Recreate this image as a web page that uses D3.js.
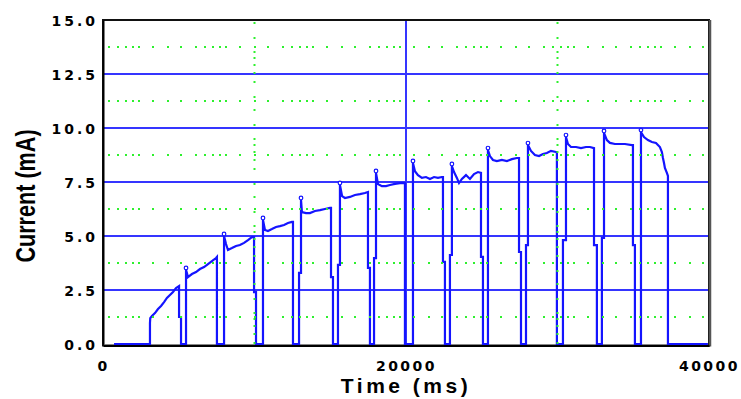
<!DOCTYPE html>
<html>
<head>
<meta charset="utf-8">
<script src="https://cdn.jsdelivr.net/npm/d3@7"></script>
<style>
  body { margin: 0; background: #fff; }
  svg { display: block; }
  .tick-label { font-family: "DejaVu Sans", sans-serif; font-weight: bold; font-size: 14px; letter-spacing: 3px; fill: #000; }
  .axis-title { font-family: "Liberation Sans", Arial, sans-serif; font-weight: bold; fill: #000; }
</style>
</head>
<body>
<div id="chart"></div>
<script>
const timeMs = [
  730, 3100, 3100, 3120, 3230, 3430, 3630, 3830, 4030, 4220, 4420, 4620, 4820, 5020, 5020, 5150, 5150, 5480,
  5480, 5610, 5870, 6140, 6400, 6670, 6930, 7190, 7460, 7520, 7520, 7990,
  7990, 8120, 8250, 8510, 8780, 9040, 9310, 9570, 9830, 9970, 9970, 10100, 10100, 10560,
  10560, 10690, 10890, 11150, 11420, 11680, 11950, 12210, 12470, 12540, 12540, 12940,
  12940, 13070, 13070, 13130, 13400, 13660, 13990, 14320, 14650, 14980, 15050, 15050, 15180, 15180, 15510,
  15510, 15640, 15640, 15780, 15970, 16300, 16630, 16960, 17290, 17490, 17490, 17620, 17620, 17890,
  17890, 18020, 18020, 18150, 18410, 18680, 18940, 19270, 19600, 19930, 19930, 20460,
  20460, 20590, 20790, 21050, 21320, 21580, 21850, 22110, 22370, 22440, 22440, 22570, 22570, 22900,
  22900, 23030, 23030, 23170, 23360, 23500, 23690, 23960, 24220, 24490, 24750, 24950, 24950, 25080, 25080, 25410,
  25410, 25540, 25740, 26000, 26330, 26660, 26990, 27320, 27460, 27460, 27590, 27590, 27920,
  27920, 28050, 28050, 28250, 28510, 28780, 29040, 29300, 29570, 29900, 29960, 29960, 30360,
  30360, 30560, 30560, 30690, 30890, 31220, 31550, 31880, 32140, 32410, 32410, 32600, 32600, 32930,
  32930, 33070, 33070, 33260, 33460, 33790, 34120, 34450, 34910, 34980, 34980, 35110, 35110, 35510,
  35510, 35710, 35970, 36230, 36500, 36760, 36890, 36960, 37030, 37090, 37220, 37290, 37290, 39930
];
const currentMa = [
  0, 0, 0.97, 1.2, 1.3, 1.43, 1.62, 1.76, 1.94, 2.13, 2.27, 2.41, 2.59, 2.68, 1.25, 1.25, 0, 0,
  3.43, 3.1, 3.24, 3.33, 3.47, 3.56, 3.7, 3.84, 3.98, 4.03, 0, 0,
  5.0, 4.63, 4.35, 4.44, 4.54, 4.58, 4.68, 4.81, 4.95, 4.95, 2.4, 2.4, 0, 0,
  5.74, 5.28, 5.23, 5.32, 5.42, 5.46, 5.51, 5.6, 5.65, 5.65, 0, 0,
  3.29, 3.29, 6.67, 6.11, 6.06, 6.06, 6.16, 6.2, 6.25, 6.3, 6.3, 3.1, 3.1, 0, 0,
  3.66, 3.66, 7.36, 6.85, 6.76, 6.81, 6.9, 6.94, 6.99, 7.04, 3.52, 3.52, 0, 0,
  3.98, 3.98, 7.92, 7.41, 7.31, 7.31, 7.36, 7.41, 7.45, 7.45, 0, 0,
  8.38, 8.0, 7.82, 7.69, 7.73, 7.64, 7.73, 7.69, 7.73, 7.73, 3.8, 3.8, 0, 0,
  4.12, 4.12, 8.24, 7.96, 7.69, 7.45, 7.64, 7.82, 7.64, 7.87, 7.96, 7.92, 4.03, 4.03, 0, 0,
  8.98, 8.7, 8.52, 8.47, 8.52, 8.47, 8.56, 8.61, 8.61, 4.26, 4.26, 0, 0,
  4.58, 4.58, 9.21, 8.94, 8.75, 8.7, 8.8, 8.84, 8.94, 8.89, 8.89, 0, 0,
  4.81, 4.81, 9.58, 9.26, 9.12, 9.12, 9.07, 9.12, 9.12, 9.07, 4.58, 4.58, 0, 0,
  4.91, 4.91, 9.77, 9.44, 9.31, 9.26, 9.26, 9.26, 9.21, 9.21, 4.58, 4.58, 0, 0,
  9.81, 9.58, 9.44, 9.35, 9.31, 9.12, 8.89, 8.61, 8.38, 8.15, 7.92, 7.78, 0, 0
];

const yTicks = [0, 2.5, 5, 7.5, 10, 12.5, 15];
const yMinorTicks = [1.25, 3.75, 6.25, 8.75, 11.25, 13.75];
const xTicks = [0, 20000, 40000];
const xMajorGrid = [20000];
const xMinorTicks = [10000, 30000];

const width = 741;
const height = 399;
const margin = { top: 20, right: 32, bottom: 55, left: 103 };
const innerW = width - margin.left - margin.right;
const innerH = height - margin.top - margin.bottom;

const svg = d3.select("#chart")
  .append("svg")
  .attr("width", width)
  .attr("height", height);

const g = svg.append("g")
  .attr("transform", `translate(${margin.left},${margin.top})`);

const x = d3.scaleLinear().domain([0, 40000]).range([0, innerW]);
const y = d3.scaleLinear().domain([0, 15]).range([innerH, 0]);

const blue = "#3535ff";
const traceBlue = "#1414ff";
const dots = "2,7,2,6,2,5,2,4,2,12,2,13,2,11,2,13";

// major grid
g.selectAll(".hgrid")
  .data(yTicks.filter(d => d > 0 && d < 15))
  .enter()
  .append("line")
  .attr("x1", 0)
  .attr("x2", innerW)
  .attr("y1", d => y(d))
  .attr("y2", d => y(d))
  .attr("stroke", blue)
  .attr("stroke-width", 2);

g.selectAll(".vgrid")
  .data(xMajorGrid)
  .enter()
  .append("line")
  .attr("x1", d => x(d))
  .attr("x2", d => x(d))
  .attr("y1", 0)
  .attr("y2", innerH)
  .attr("stroke", blue)
  .attr("stroke-width", 2);

// frame
g.append("rect")
  .attr("x", 0)
  .attr("y", 0)
  .attr("width", innerW)
  .attr("height", innerH + 1.5)
  .attr("fill", "none")
  .attr("stroke", "#111")
  .attr("stroke-width", 2);

g.append("line")
  .attr("x1", innerW + 1)
  .attr("x2", innerW + 1)
  .attr("y1", 0)
  .attr("y2", innerH + 2.5)
  .attr("stroke", "#555")
  .attr("stroke-width", 2.5);

// axes
const yAxis = g.append("g")
  .call(d3.axisLeft(y).tickValues(yTicks).tickSize(0).tickFormat(d3.format(".1f")));
yAxis.select(".domain").attr("stroke", "#000").attr("stroke-width", 2);
yAxis.selectAll("text")
  .attr("class", "tick-label")
  .attr("x", -5)
  .attr("dy", "0.37em");

const xAxis = g.append("g")
  .attr("transform", `translate(0,${innerH + 1.5})`)
  .call(d3.axisBottom(x).tickValues(xTicks).tickSize(0).tickFormat(d3.format("d")));
xAxis.select(".domain").attr("stroke", "#000").attr("stroke-width", 2);
xAxis.selectAll("text")
  .attr("class", "tick-label")
  .style("letter-spacing", "2.5px")
  .attr("y", 25.5)
  .attr("dy", 0);

// data trace
const points = timeMs.map((t, i) => [t, currentMa[i]]);
const line = d3.line()
  .x(d => x(d[0]))
  .y(d => y(d[1]));

g.append("path")
  .datum(points)
  .attr("fill", "none")
  .attr("stroke", traceBlue)
  .attr("stroke-width", 2.2)
  .attr("stroke-linejoin", "miter")
  .attr("d", line);

// small open markers on top of each pulse's leading spike
const peaks = points.filter((p, i) =>
  i > 0 && i < points.length - 1 && p[1] - points[i - 1][1] > 1 && p[1] > points[i + 1][1]);

g.selectAll(".peak")
  .data(peaks)
  .enter()
  .append("circle")
  .attr("cx", d => x(d[0]))
  .attr("cy", d => y(d[1]) - 2)
  .attr("r", 1.8)
  .attr("fill", "#fff")
  .attr("stroke", traceBlue)
  .attr("stroke-width", 1.2);

// minor dotted grid
g.selectAll(".hminor")
  .data(yMinorTicks)
  .enter()
  .append("line")
  .attr("x1", 5)
  .attr("x2", innerW)
  .attr("y1", d => y(d))
  .attr("y2", d => y(d))
  .attr("stroke", "#2ef02e")
  .attr("stroke-width", 2)
  .attr("stroke-dasharray", dots);

g.selectAll(".vminor")
  .data(xMinorTicks)
  .enter()
  .append("line")
  .attr("x1", d => x(d))
  .attr("x2", d => x(d))
  .attr("y1", innerH)
  .attr("y2", 2)
  .attr("stroke", "#2ef02e")
  .attr("stroke-width", 2)
  .attr("stroke-dasharray", dots);

svg.append("text")
  .attr("class", "axis-title")
  .attr("x", margin.left + innerW / 2)
  .attr("y", 393)
  .attr("text-anchor", "middle")
  .style("font-size", "21px")
  .style("letter-spacing", "3.5px")
  .text("Time (ms)");

svg.append("text")
  .attr("class", "axis-title")
  .attr("transform", "translate(35,196) rotate(-90) scale(0.8,1)")
  .attr("text-anchor", "middle")
  .style("font-size", "27px")
  .text("Current (mA)");
</script>
</body>
</html>
